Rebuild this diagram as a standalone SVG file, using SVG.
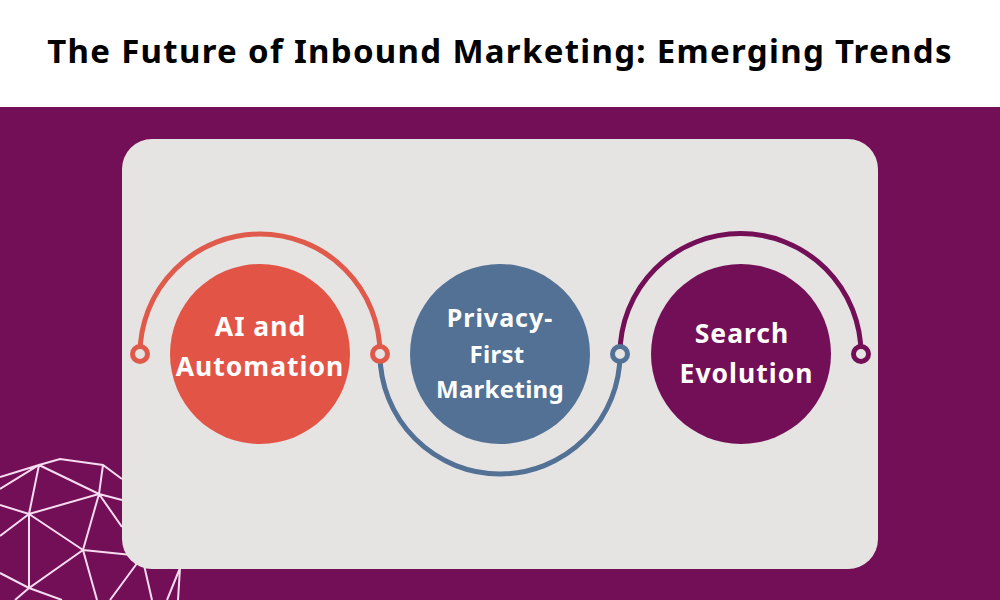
<svg xmlns="http://www.w3.org/2000/svg" width="1000" height="600" viewBox="0 0 1000 600">
<style>
text{font-family:"Noto Sans","DejaVu Sans",sans-serif;font-weight:700;text-anchor:middle}
.l{font-size:26.500px;fill:#fff;letter-spacing:1px}
.p{font-size:24px;fill:#fff;letter-spacing:.3px}
.w{letter-spacing:1px;font-size:25px}
.arc{fill:none;stroke-width:5}
.ring{fill:#e6e3e3;stroke-width:5}
.mesh{fill:none;stroke:#f6dcf0;stroke-width:2}
</style>
<rect width="1000" height="600" fill="#fff"/>
<rect y="107" width="1000" height="493" fill="#730f57"/>
<path class="mesh" d="M0 477L39 465L60 459L103 465L122 479M0 489L39 465L99 494L122 500M39 465L29 514L0 505M29 514L99 494L103 465M29 514L0 536M29 514L83 550L99 494L122 527M29 514V588M83 550L132 555M83 550L29 588L0 573M29 588L62 600M29 588L15 600M83 550L97 600M138 562L110 600M144 565L152 600M180 568L167 600M180 568L178 600"/>
<rect x="122" y="139" width="756" height="430" rx="30" fill="#e6e3e3"/>
<text x="500" y="63" font-size="33" letter-spacing="1.300" fill="#000">The Future of Inbound Marketing: Emerging Trends</text>
<g id="connectors">
<path class="arc" stroke="#df5a4a" d="M140 354A120 120 0 0 1 380 354"/>
<path class="arc" stroke="#527195" d="M380 354A120 120 0 0 0 620 354"/>
<path class="arc" stroke="#730f57" d="M620 354A120.500 120.500 0 0 1 861 354"/>
</g>
<g id="node-ai">
<circle cx="260" cy="354" r="90" fill="#e25546"/>
<text class="l" x="260.500" y="336">AI and</text>
<text class="l" x="260" y="376">Automation</text>
<circle class="ring" cx="140" cy="354" r="7.500" stroke="#df5a4a"/>
<circle class="ring" cx="380" cy="354" r="7.500" stroke="#df5a4a"/>
</g>
<g id="node-privacy">
<circle cx="500" cy="354" r="90" fill="#527195"/>
<text class="p w" x="500" y="327">Privacy-</text>
<text class="p" x="497" y="363">First</text>
<text class="p" x="500" y="398">Marketing</text>
<circle class="ring" cx="620" cy="354" r="7.500" stroke="#527195"/>
</g>
<g id="node-search">
<circle cx="741" cy="354" r="90" fill="#730f57"/>
<text class="l" x="742" y="343">Search</text>
<text class="l" x="746.500" y="383">Evolution</text>
<circle class="ring" cx="861" cy="354" r="7.500" stroke="#730f57"/>
</g>
</svg>
